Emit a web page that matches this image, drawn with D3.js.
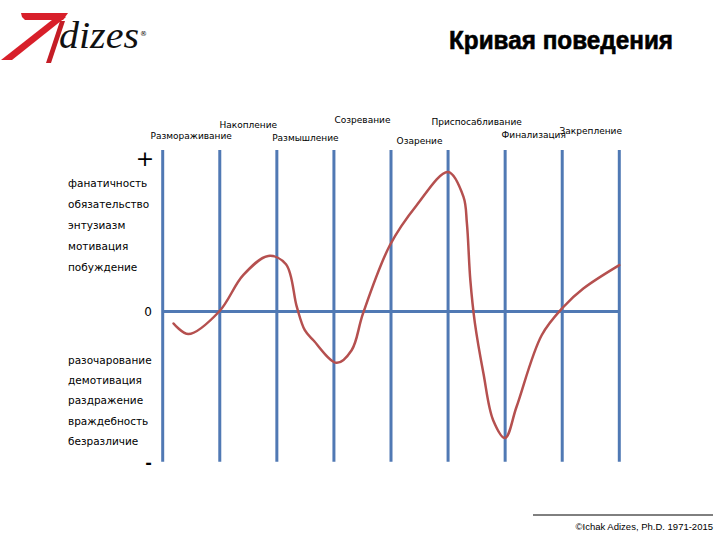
<!DOCTYPE html>
<html><head><meta charset="utf-8">
<script src="https://cdn.jsdelivr.net/npm/d3@7"></script>
<style>body{margin:0;background:#fff}svg{display:block}</style>
</head><body>
<svg id="c" width="720" height="540"></svg>
<script>
// ---- data ----
const title = "Кривая поведения";
const stages = ["Размораживание","Накопление","Размышление","Созревание","Озарение","Приспосабливание","Финализация","Закрепление"];
const positiveLabels = ["фанатичность","обязательство","энтузиазм","мотивация","побуждение"];
const negativeLabels = ["разочарование","демотивация","раздражение","враждебность","безразличие"];
const gridX = [0,1,2,3,4,5,6,7,8];
const curveX = [0.19,0.45,0.99,1.41,1.85,2.16,2.35,2.49,2.64,3.05,3.31,3.51,3.98,4.45,5.0,5.27,5.33,5.39,5.47,5.62,5.79,6.0,6.2,6.64,7.02,7.37,8.0];
const curveY = [-7.4,-14,0,22.5,34.4,29.3,2.8,-11.6,-17.8,-31.8,-24,-1.2,41,65.8,86.4,71,54.5,19.4,-7.2,-38.4,-67.3,-78.3,-59,-14.7,2.8,14.2,28.7];
const copyright = "©Ichak Adizes, Ph.D. 1971-2015";

// ---- layout ----
const svg = d3.select("#c");
const x = d3.scaleLinear().domain([0,8]).range([162.7,619.3]);
const y = d3.scaleLinear().domain([-93,100]).range([461.7,150]);
const blue = "#5079b4", red = "#b5504f";
const labelY = [136,125,137.7,120,141,122,135,131];

// grid
svg.selectAll("line.v").data(gridX).enter().append("line")
  .attr("x1",d=>x(d)).attr("x2",d=>x(d)).attr("y1",y(100)).attr("y2",y(-93))
  .attr("stroke",blue).attr("stroke-width",3);
svg.append("line").attr("x1",x(0)).attr("x2",x(8)).attr("y1",y(0)).attr("y2",y(0))
  .attr("stroke",blue).attr("stroke-width",3);

// curve
const pts = curveX.map((d,i)=>[d,curveY[i]]);
svg.append("path").datum(pts)
  .attr("d", d3.line().x(d=>x(d[0])).y(d=>y(d[1])).curve(d3.curveCatmullRom.alpha(0.5)))
  .attr("fill","none").attr("stroke",red).attr("stroke-width",2.5).attr("stroke-linecap","round");

// stage labels
svg.selectAll("text.stage").data(stages).enter().append("text")
  .attr("x",(d,i)=>x(i+0.5)).attr("y",(d,i)=>labelY[i]).attr("dy","0.35em")
  .attr("text-anchor","middle").attr("font-family","DejaVu Sans").attr("font-size",9)
  .text(d=>d);

// left labels
const lf = "DejaVu Sans";
svg.selectAll("text.pos").data(positiveLabels).enter().append("text")
  .attr("x",68).attr("y",(d,i)=>183.5+i*21).attr("dy","0.35em")
  .attr("font-family",lf).attr("font-size",10.5).text(d=>d);
svg.selectAll("text.neg").data(negativeLabels).enter().append("text")
  .attr("x",68).attr("y",(d,i)=>360+i*20.4).attr("dy","0.35em")
  .attr("font-family",lf).attr("font-size",10.5).text(d=>d);
svg.append("text").attr("x",145).attr("y",158).attr("dy","0.35em").attr("text-anchor","middle")
  .attr("font-family",lf).attr("font-size",22).text("+");
svg.append("text").attr("x",152).attr("y",y(0)).attr("dy","0.35em").attr("text-anchor","end")
  .attr("font-family",lf).attr("font-size",12).text("0");
svg.append("text").attr("x",152).attr("y",462).attr("dy","0.35em").attr("text-anchor","end")
  .attr("font-family",lf).attr("font-size",16).attr("font-weight","bold").text("-");

// title
svg.append("text").attr("x",449).attr("y",49).attr("font-family","Liberation Sans Narrow, Liberation Sans")
  .attr("font-weight","bold").attr("font-size",25).attr("textLength",224).attr("lengthAdjust","spacingAndGlyphs")
  .attr("stroke","#000").attr("stroke-width",0.6)
  .text(title);

// logo
const logo = svg.append("g");
logo.append("path").attr("d","M21,13 L68,13 L63,20 L25,20 L22,17 Z").attr("fill","#d81f2a");
logo.append("path").attr("d","M1,60 L12,60 L66,17 L57,16 Z").attr("fill","#d81f2a");
logo.append("path").attr("d","M60,21 L65,21 L51,63 L46,63 Z").attr("fill","#c41d26");
logo.append("text").attr("x",59).attr("y",48).attr("font-family","Liberation Serif").attr("font-style","italic")
  .attr("font-size",38).attr("fill","#111").attr("textLength",80).attr("lengthAdjust","spacingAndGlyphs").text("dizes");
logo.append("text").attr("x",140).attr("y",36).attr("font-family","DejaVu Sans").attr("font-size",7).text("®");

// copyright
svg.append("line").attr("x1",533).attr("x2",713).attr("y1",515).attr("y2",515).attr("stroke","#000").attr("stroke-width",1);
svg.append("text").attr("x",713).attr("y",527).attr("dy","0.35em").attr("text-anchor","end")
  .attr("font-family","Liberation Sans").attr("font-size",9.5).text(copyright);
</script>
</body></html>
